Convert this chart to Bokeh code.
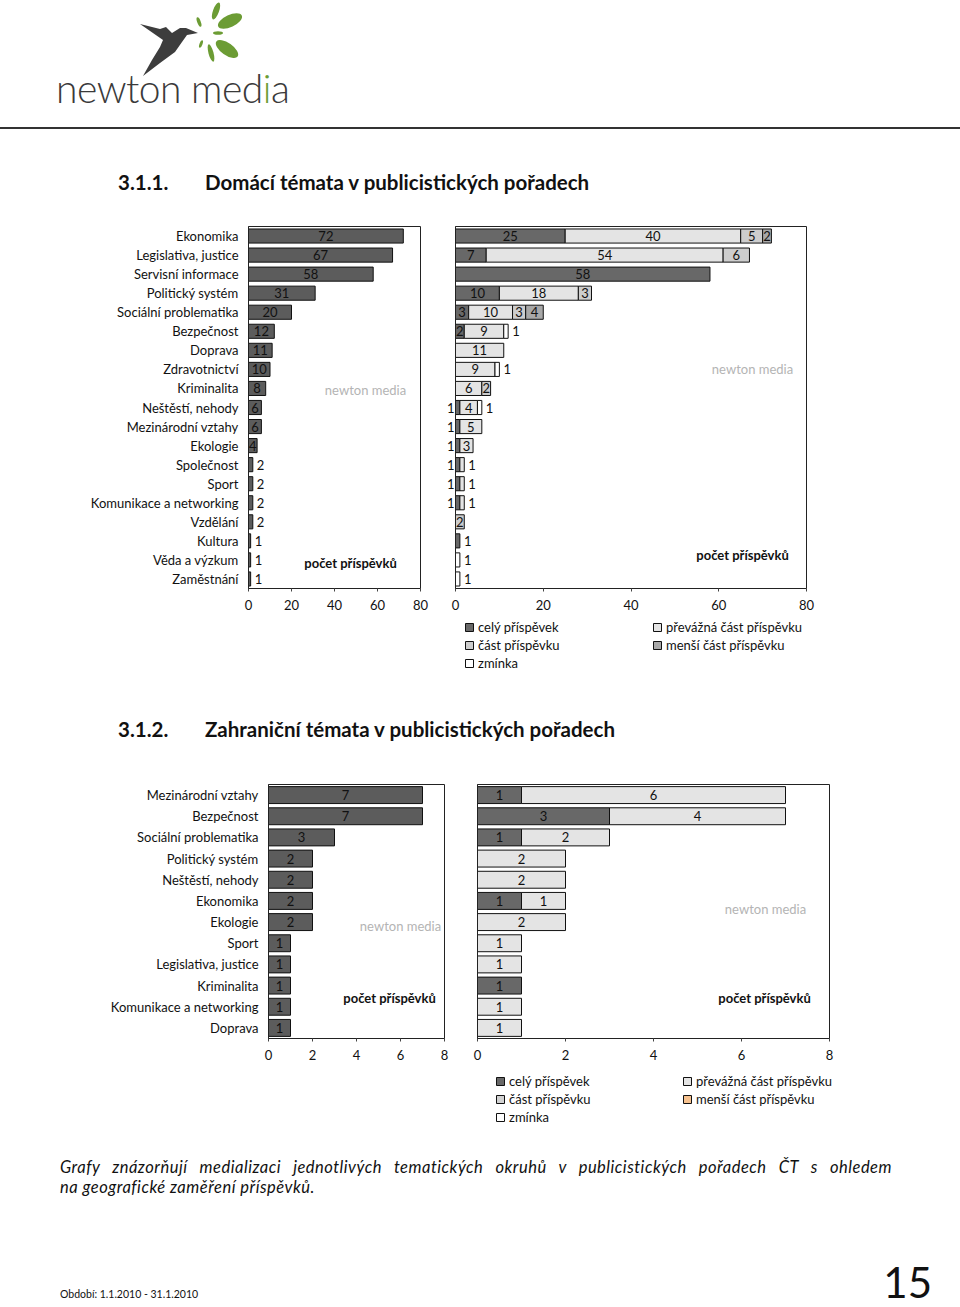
from bokeh.plotting import figure
from bokeh.models import (ColumnDataSource, FactorRange, Range1d, FixedTicker,
                          LabelSet, Label, Legend, LegendItem, Div)
from bokeh.layouts import column, row
from bokeh.embed import file_html
from bokeh.resources import INLINE
from bokeh.core.properties import value

FONT = "Lato"

# ---------------- data: 3.1.1 Domácí témata ----------------
dom_categories = ["Ekonomika", "Legislativa, justice", "Servisní informace", "Politický systém",
                  "Sociální problematika", "Bezpečnost", "Doprava", "Zdravotnictví", "Kriminalita",
                  "Neštěstí, nehody", "Mezinárodní vztahy", "Ekologie", "Společnost", "Sport",
                  "Komunikace a networking", "Vzdělání", "Kultura", "Věda a výzkum", "Zaměstnání"]
dom_totals = [72, 67, 58, 31, 20, 12, 11, 10, 8, 6, 6, 4, 2, 2, 2, 2, 1, 1, 1]
dom_cely = [25, 7, 58, 10, 3, 2, 0, 0, 0, 1, 1, 1, 1, 1, 1, 0, 1, 0, 0]
dom_prevazna = [40, 54, 0, 18, 10, 9, 11, 9, 6, 4, 5, 3, 1, 1, 1, 0, 0, 0, 0]
dom_cast = [5, 6, 0, 3, 3, 0, 0, 0, 2, 0, 0, 0, 0, 0, 0, 2, 0, 0, 0]
dom_mensi = [2, 0, 0, 0, 4, 0, 0, 0, 0, 0, 0, 0, 0, 0, 0, 0, 0, 0, 0]
dom_zminka = [0, 0, 0, 0, 0, 1, 0, 1, 0, 1, 0, 0, 0, 0, 0, 0, 0, 1, 1]
dom_ticks = [0, 20, 40, 60, 80]

# ---------------- data: 3.1.2 Zahraniční témata ----------------
zah_categories = ["Mezinárodní vztahy", "Bezpečnost", "Sociální problematika", "Politický systém",
                  "Neštěstí, nehody", "Ekonomika", "Ekologie", "Sport", "Legislativa, justice",
                  "Kriminalita", "Komunikace a networking", "Doprava"]
zah_totals = [7, 7, 3, 2, 2, 2, 2, 1, 1, 1, 1, 1]
zah_cely = [1, 3, 1, 0, 0, 1, 0, 0, 0, 1, 0, 0]
zah_prevazna = [6, 4, 2, 2, 2, 1, 2, 1, 1, 0, 1, 1]
zah_cast = [0, 0, 0, 0, 0, 0, 0, 0, 0, 0, 0, 0]
zah_mensi = [0, 0, 0, 0, 0, 0, 0, 0, 0, 0, 0, 0]
zah_zminka = [0, 0, 0, 0, 0, 0, 0, 0, 0, 0, 0, 0]
zah_ticks = [0, 2, 4, 6, 8]

series_names = ["celý příspěvek", "převážná část příspěvku", "část příspěvku",
                "menší část příspěvku", "zmínka"]
dom_colors = ["#686868", "#e4e4e4", "#cdcdcd", "#a8a8a8", "#ffffff"]
zah_colors = ["#686868", "#e4e4e4", "#d2d2d2", "#f7c28f", "#ffffff"]
total_color = "#5c5c5c"


def style_common(p, ticks):
    p.xgrid.visible = False
    p.ygrid.visible = False
    p.outline_line_color = "#222222"
    p.outline_line_width = 1
    p.background_fill_color = "white"
    p.border_fill_color = "white"
    ax = p.xaxis[0]
    ax.ticker = FixedTicker(ticks=ticks)
    ax.major_tick_out = 3
    ax.major_tick_in = 0
    ax.minor_tick_line_color = None
    ax.major_label_standoff = 8
    ax.axis_line_color = "#222222"
    ax.major_tick_line_color = "#444444"
    ax.major_label_text_font = FONT
    ax.major_label_text_font_size = "13px"
    ax.major_label_text_color = "#111111"


def style_yaxis(p, standoff):
    ya = p.yaxis[0]
    ya.major_tick_line_color = None
    ya.minor_tick_line_color = None
    ya.major_tick_out = 0
    ya.major_tick_in = 0
    ya.axis_line_color = "#222222"
    ya.major_label_standoff = standoff
    ya.major_label_text_font = FONT
    ya.major_label_text_font_size = "13px"
    ya.major_label_text_color = "#111111"
    return ya


def add_text_labels(p, xs, ys, ts, align, offset):
    if not xs:
        return
    src = ColumnDataSource(dict(x=xs, y=ys, t=ts))
    p.add_layout(LabelSet(x="x", y="y", text="t", source=src, x_offset=offset,
                          text_align=align, text_baseline="middle",
                          text_font=value(FONT), text_font_size="13px",
                          text_color="#111111"))


def add_marks(p, wm_xy, pc_xy):
    p.add_layout(Label(x=wm_xy[0], y=wm_xy[1], x_units="screen", y_units="screen",
                       text="newton media", text_font=FONT, text_font_size="13px",
                       text_color="#b4b4b4", text_align="center", text_baseline="middle"))
    p.add_layout(Label(x=pc_xy[0], y=pc_xy[1], x_units="screen", y_units="screen",
                       text="počet příspěvků", text_font=FONT, text_font_size="13px",
                       text_font_style="bold", text_color="#111111",
                       text_align="center", text_baseline="middle"))


def total_figure(cats, totals, xmax, ticks, width, height, bl, br, bt, bb,
                 inside_min, bar_h, wm_xy, pc_xy):
    p = figure(width=width, height=height, y_range=FactorRange(*reversed(cats)),
               x_range=Range1d(0, xmax), output_backend="svg", toolbar_location=None,
               min_border_left=bl, min_border_right=br, min_border_top=bt,
               min_border_bottom=bb)
    src = ColumnDataSource(dict(cat=cats, val=totals))
    p.hbar(y="cat", left=0, right="val", height=bar_h, source=src,
           fill_color=total_color, line_color="#111111", line_width=1)
    ix, iy, it, ox, oy, ot = [], [], [], [], [], []
    for c, v in zip(cats, totals):
        if v >= inside_min:
            ix.append(v / 2); iy.append(c); it.append(str(v))
        else:
            ox.append(v); oy.append(c); ot.append(str(v))
    add_text_labels(p, ix, iy, it, "center", 0)
    add_text_labels(p, ox, oy, ot, "left", 4)
    style_common(p, ticks)
    style_yaxis(p, 10)
    add_marks(p, wm_xy, pc_xy)
    return p


def stacked_figure(cats, series, colors, xmax, ticks, width, height, bl, br, bt, bb,
                   inside_min, bar_h, wm_xy, pc_xy):
    n = len(cats)
    # row j of the category list sits at the centre of band j from the top
    ypos = [n - j - 0.5 for j in range(n)]
    p = figure(width=width, height=height, y_range=Range1d(0, n),
               x_range=Range1d(0, xmax), output_backend="svg", toolbar_location=None,
               min_border_left=bl, min_border_right=br, min_border_top=bt,
               min_border_bottom=bb)
    cum = [0] * n
    for s, vals in enumerate(series):
        yy, ll, rr = [], [], []
        for j, v in enumerate(vals):
            if v > 0:
                yy.append(ypos[j]); ll.append(cum[j]); rr.append(cum[j] + v)
            cum[j] += v
        src = ColumnDataSource(dict(y=yy, left=ll, right=rr))
        p.hbar(y="y", left="left", right="right", height=bar_h, source=src,
               fill_color=colors[s], line_color="#111111", line_width=1)
    # labels: centred inside, or outside for narrow segments
    cx, cy, ct, rx, ry, rt = [], [], [], [], [], []
    left_outside = {}
    for j in range(n):
        segs = [vals[j] for vals in series if vals[j] > 0]
        left = 0
        for k, v in enumerate(segs):
            if v >= inside_min:
                cx.append(left + v / 2); cy.append(ypos[j]); ct.append(str(v))
            elif k == 0 and len(segs) > 1:
                left_outside[ypos[j]] = str(v)
            else:
                rx.append(left + v); ry.append(ypos[j]); rt.append(str(v))
            left += v
    add_text_labels(p, cx, cy, ct, "center", 0)
    add_text_labels(p, rx, ry, rt, "left", 4)
    style_common(p, ticks)
    ya = style_yaxis(p, 1)
    ya.ticker = FixedTicker(ticks=sorted(left_outside.keys()), minor_ticks=[])
    ya.major_label_overrides = left_outside
    add_marks(p, wm_xy, pc_xy)
    return p


def legend_figure(colors, width, height, a_xy, b_xy):
    p = figure(width=width, height=height, x_range=Range1d(0, 1), y_range=Range1d(0, 1),
               output_backend="svg", toolbar_location=None,
               x_axis_location=None, y_axis_location=None,
               min_border_left=0, min_border_right=0, min_border_top=0, min_border_bottom=0)
    p.frame_align = False
    p.xgrid.visible = False
    p.ygrid.visible = False
    p.outline_line_color = None
    rs = []
    for c in colors:
        # legend-only renderer: one undrawable (NaN) bar, only its swatch shows
        src = ColumnDataSource(dict(y=[float("nan")], r=[float("nan")]))
        rs.append(p.hbar(y="y", left=0, right="r", height=0.1, source=src,
                         fill_color=c, line_color="#111111", line_width=1))

    def mk(idx, loc):
        return Legend(items=[LegendItem(label=series_names[i], renderers=[rs[i]]) for i in idx],
                      location=loc, orientation="vertical",
                      glyph_width=10, glyph_height=10, label_standoff=4, label_height=18,
                      label_width=20, spacing=0, padding=0, margin=0,
                      border_line_color=None, background_fill_alpha=0,
                      label_text_font=FONT, label_text_font_size="13px",
                      label_text_color="#111111")
    p.add_layout(mk([0, 2, 4], a_xy))
    p.add_layout(mk([1, 3], b_xy))
    return p


# ---------------- chart 3.1.1 ----------------
dom_series = [dom_cely, dom_prevazna, dom_cast, dom_mensi, dom_zminka]
f1L = total_figure(dom_categories, dom_totals, 80, dom_ticks, 440, 480, 248, 20, 16, 102,
                   4, 0.74, (117, 199), (102, 26))
f1R = stacked_figure(dom_categories, dom_series, dom_colors, 80, dom_ticks, 520, 408,
                     15, 154, 16, 30, 2, 0.74, (297, 220), (287, 34))
lg1 = legend_figure(dom_colors, 520, 72, (24, 18), (212, 36))

# ---------------- chart 3.1.2 ----------------
zah_series = [zah_cely, zah_prevazna, zah_cast, zah_mensi, zah_zminka]
f2L = total_figure(zah_categories, zah_totals, 8, zah_ticks, 460, 380, 268, 16, 24, 102,
                   1, 0.8, (132, 113), (121, 41))
f2R = stacked_figure(zah_categories, zah_series, zah_colors, 8, zah_ticks, 500, 308,
                     17, 131, 24, 30, 1, 0.8, (288, 130), (287, 41))
lg2 = legend_figure(zah_colors, 500, 72, (35, 14), (222, 32))

# ---------------- page texts ----------------
header_html = """
<div style="position:relative;width:960px;height:140px;">
<svg style="position:absolute;left:0;top:0" width="320" height="110" viewBox="0 0 320 110">
<path d="M140,24 L160,29 L166,27 L172,33 L180,28 L186,28 L198,33 L187,35 L182,42 L175,52 L160,63 L143,76 L152,60 L160,47 L163,40 Z" fill="#3d3d3d"/>
<g fill="#6c9c34">
<ellipse cx="230" cy="21" rx="13" ry="6" transform="rotate(-25 230 21)"/>
<ellipse cx="216" cy="11" rx="9" ry="3" transform="rotate(-70 216 11)"/>
<ellipse cx="227" cy="49" rx="13" ry="6" transform="rotate(35 227 49)"/>
<ellipse cx="211" cy="53" rx="9" ry="2.5" transform="rotate(75 211 53)"/>
<ellipse cx="199" cy="22" rx="5" ry="1.8" transform="rotate(-110 199 22)"/>
<ellipse cx="218" cy="33" rx="5" ry="1.8"/>
<ellipse cx="201" cy="44" rx="4" ry="1.5" transform="rotate(110 201 44)"/>
</g>
</svg>
<div style="position:absolute;left:56px;top:65px;font-family:Lato;font-weight:300;font-size:39px;line-height:46px;color:#3a3a3a;letter-spacing:-0.5px;white-space:nowrap">newton med<span style="color:#6c9c34">i</span>a</div>
<div style="position:absolute;left:0;top:127px;width:960px;height:0;border-top:2px solid #333"></div>
</div>
"""


def heading_html(num, title, top):
    return ("<div style=\"position:relative;width:960px;height:70px;font-family:Lato;"
            "font-weight:bold;font-size:20.5px;line-height:24px;color:#111;white-space:nowrap\">"
            f"<span style=\"position:absolute;left:118px;top:{top}px\">{num}</span>"
            f"<span style=\"position:absolute;left:205px;top:{top}px\">{title}</span></div>")


caption_html = """
<div style="position:relative;width:960px;height:75px;font-family:Lato;font-style:italic;font-size:16.5px;letter-spacing:0.5px;line-height:20px;color:#111">
<div style="position:absolute;left:60px;top:17px;width:832px;text-align:justify;text-align-last:justify;white-space:normal">Grafy znázorňují medializaci jednotlivých tematických okruhů v publicistických pořadech ČT s ohledem</div>
<div style="position:absolute;left:60px;top:37px;width:832px;white-space:nowrap">na geografické zaměření příspěvků.</div>
</div>
"""

footer_html = """
<div style="position:relative;width:960px;height:92px;font-family:Lato;color:#111">
<div style="position:absolute;left:60px;top:72px;font-size:10.5px;line-height:14px;white-space:nowrap">Období: 1.1.2010 - 31.1.2010</div>
<div style="position:absolute;right:28px;top:42px;font-size:42px;line-height:50px;white-space:nowrap">15</div>
</div>
"""

d_header = Div(text=header_html, width=960, height=140, margin=0)
d_h1 = Div(text=heading_html("3.1.1.", "Domácí témata v publicistických pořadech", 30),
           width=960, height=70, margin=0)
d_h2 = Div(text=heading_html("3.1.2.", "Zahraniční témata v publicistických pořadech", 27),
           width=960, height=70, margin=0)
d_caption = Div(text=caption_html, width=960, height=75, margin=0)
d_footer = Div(text=footer_html, width=960, height=92, margin=0)

page = column(d_header, d_h1,
              row(f1L, column(f1R, lg1, spacing=0), spacing=0),
              d_h2,
              row(f2L, column(f2R, lg2, spacing=0), spacing=0),
              d_caption, d_footer, spacing=0)

open("out.html", "w").write(file_html(page, INLINE, title="Domácí a zahraniční témata"))
